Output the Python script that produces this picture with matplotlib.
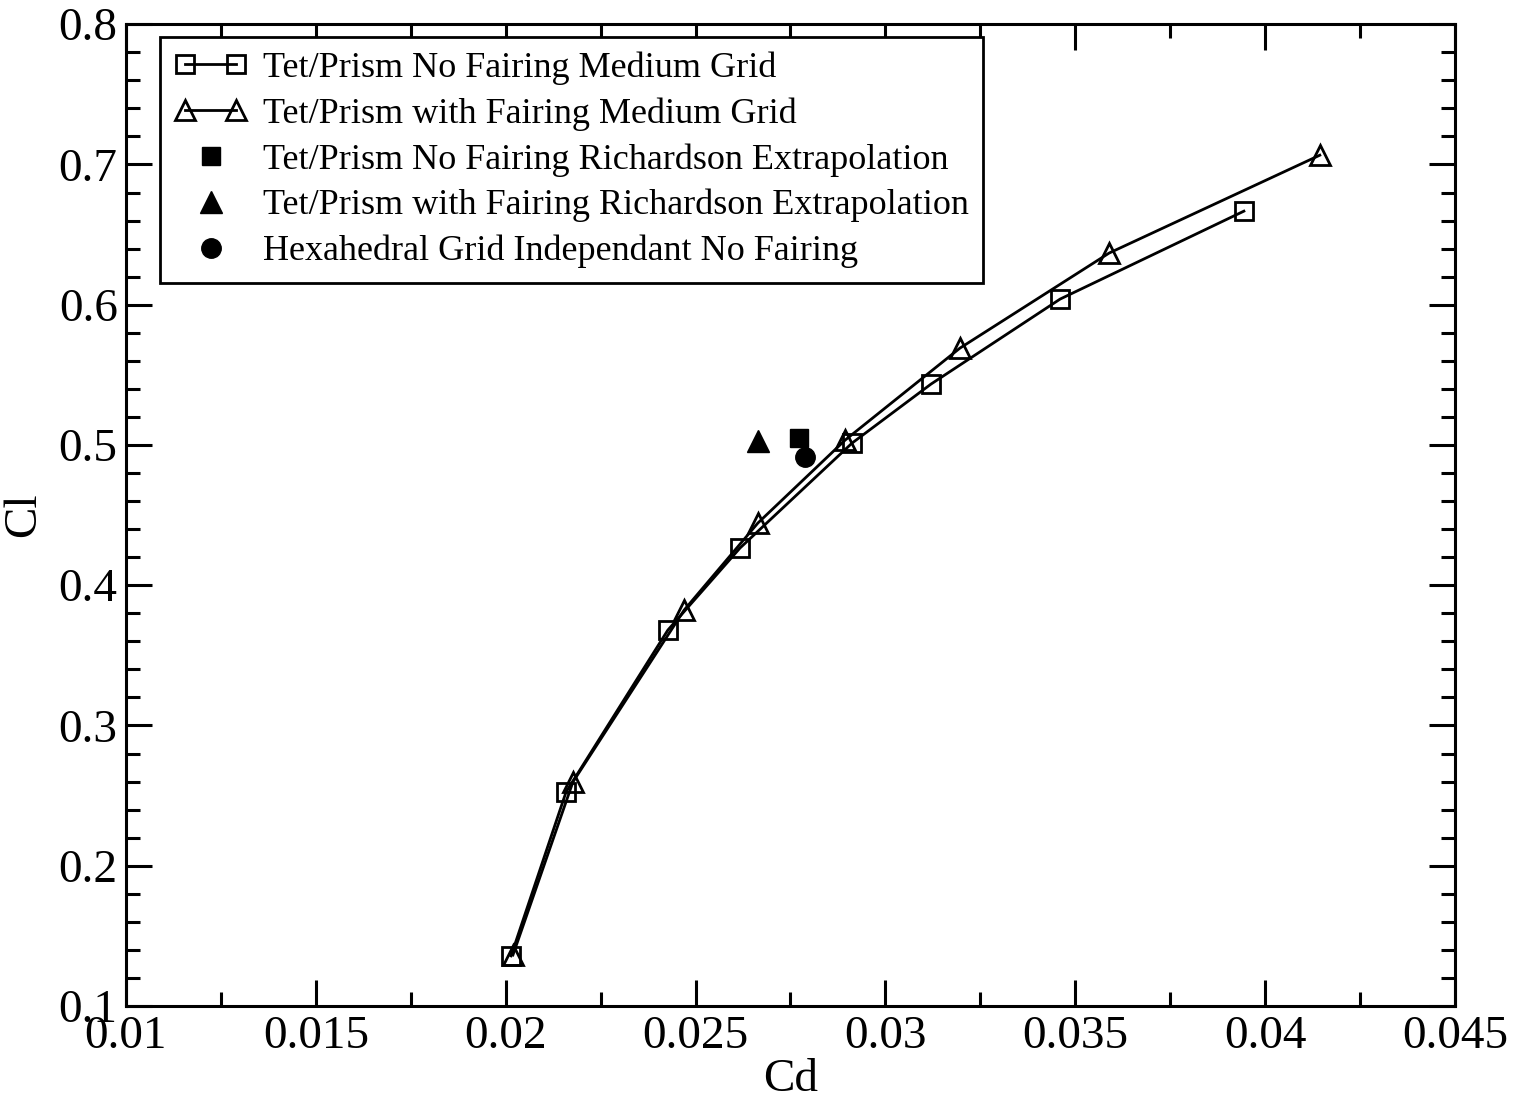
import matplotlib.pyplot as plt
from matplotlib.ticker import MultipleLocator, FuncFormatter
from matplotlib.legend_handler import HandlerLine2D

plt.rcParams['font.family'] = ['Liberation Serif', 'DejaVu Serif']

# Medium grid polars
cd_nofair = [0.02014, 0.02159, 0.02427, 0.02617, 0.02912, 0.0312, 0.0346, 0.03944]
cl_nofair = [0.1357, 0.2526, 0.368, 0.4265, 0.5013, 0.5434, 0.604, 0.6667]
cd_fair = [0.02019, 0.02177, 0.0247, 0.02664, 0.02894, 0.03196, 0.03589, 0.04144]
cl_fair = [0.1363, 0.2597, 0.3823, 0.4443, 0.5035, 0.569, 0.6368, 0.7066]

# Extrapolated / grid-independent points
cd_rich_nofair, cl_rich_nofair = [0.02772], [0.5049]
cd_rich_fair, cl_rich_fair = [0.02664], [0.5027]
cd_hex, cl_hex = [0.02788], [0.4913]

fig = plt.figure(figsize=(15.18, 11), dpi=100)
ax = fig.add_axes([0.083, 0.0855, 0.8755, 0.8925])

lw = 2.0
ax.plot(cd_nofair, cl_nofair, color='black', lw=lw, marker='s', ms=13,
        mfc='none', mew=2, label='Tet/Prism No Fairing Medium Grid')
ax.plot(cd_fair, cl_fair, color='black', lw=lw, marker='^', ms=15,
        mfc='none', mew=2, label='Tet/Prism with Fairing Medium Grid')
p3, = ax.plot(cd_rich_nofair, cl_rich_nofair, ls='none', marker='s', ms=13.5,
              color='black', label='Tet/Prism No Fairing Richardson Extrapolation')
p4, = ax.plot(cd_rich_fair, cl_rich_fair, ls='none', marker='^', ms=16,
              color='black', label='Tet/Prism with Fairing Richardson Extrapolation')
p5, = ax.plot(cd_hex, cl_hex, ls='none', marker='o', ms=14,
              color='black', label='Hexahedral Grid Independant No Fairing')

ax.set_xlim(0.01, 0.045)
ax.set_ylim(0.1, 0.8)
ax.xaxis.set_major_locator(MultipleLocator(0.005))
ax.xaxis.set_minor_locator(MultipleLocator(0.0025))
ax.yaxis.set_major_locator(MultipleLocator(0.1))
ax.yaxis.set_minor_locator(MultipleLocator(0.02))
ax.xaxis.set_major_formatter(FuncFormatter(lambda v, p: f'{v:g}'))
ax.yaxis.set_major_formatter(FuncFormatter(lambda v, p: f'{v:g}'))

ax.tick_params(which='both', direction='in', top=True, right=True,
               width=2.2, labelsize=34)
ax.tick_params(axis='x', pad=7)
ax.tick_params(axis='y', pad=6)
ax.tick_params(which='major', length=19)
ax.tick_params(which='minor', length=10)
for s in ax.spines.values():
    s.set_linewidth(2.2)

ax.set_xlabel('Cd', fontsize=34, labelpad=0)
ax.set_ylabel('Cl', fontsize=34, labelpad=10)

single = HandlerLine2D(numpoints=1)
leg = ax.legend(loc='upper left', bbox_to_anchor=(0.0256, 0.9868),
                borderaxespad=0, fontsize=26, frameon=True, fancybox=False,
                edgecolor='black', framealpha=1, handlelength=2.0,
                handletextpad=0.45, labelspacing=0.34, borderpad=0.4,
                numpoints=2, handler_map={p3: single, p4: single, p5: single})
leg.get_frame().set_linewidth(2)

fig.savefig('out.png', dpi=100)
